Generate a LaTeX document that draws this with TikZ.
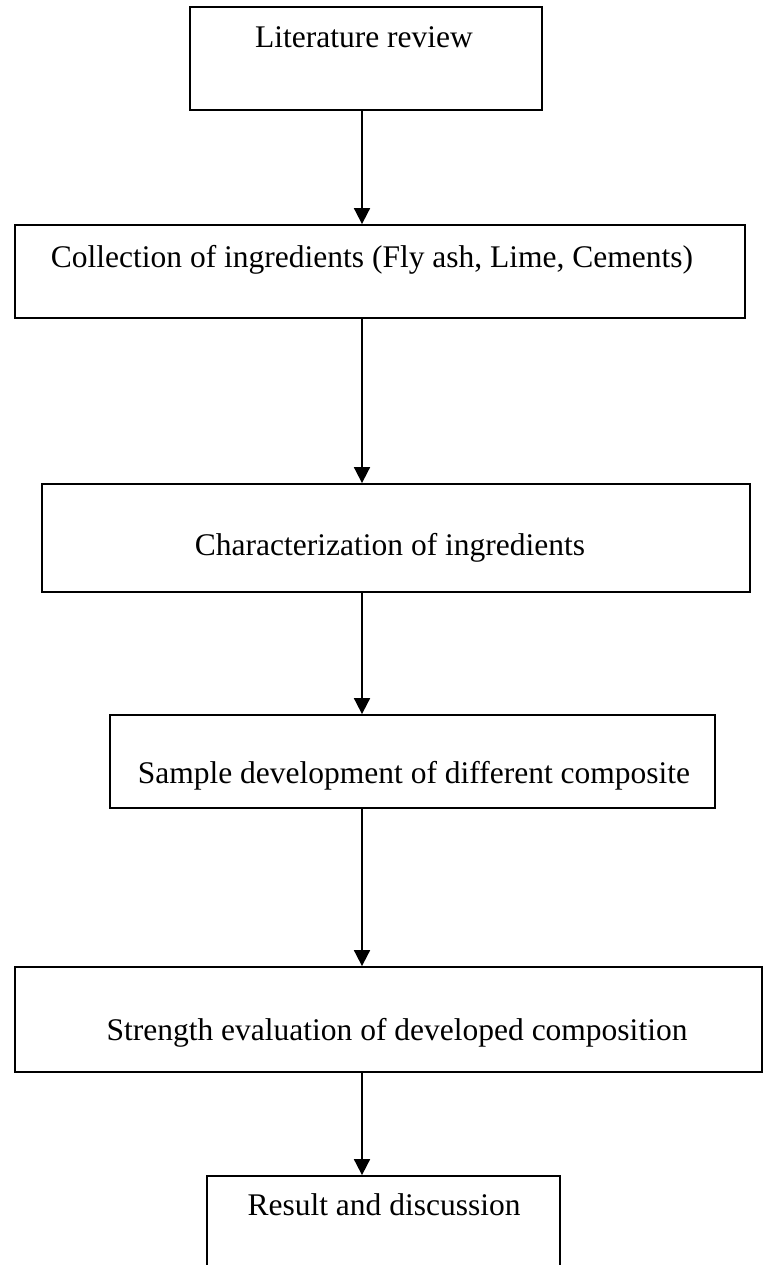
\documentclass[tikz,border=0pt]{standalone}
\usepackage{fontspec}
\setmainfont{Liberation Serif}
\usetikzlibrary{arrows.meta}
\tikzset{
  stepbox/.style={draw=black, line width=1.8pt, rectangle, inner sep=0pt},
  steptext/.style={anchor=base, inner sep=0pt, font=\fontsize{31.5}{36}\selectfont},
  flow/.style={line width=1.8pt, -{Triangle[length=16pt,width=16pt]}}
}
\begin{document}
\begin{tikzpicture}[x=1pt,y=-1pt]
\useasboundingbox (0,0) rectangle (766,1265);
\clip (0,0) rectangle (766,1265);
\fill[white] (0,0) rectangle (766,1265);
% boxes
\node[stepbox, minimum width=352pt, minimum height=103pt] (b1) at (366,58.5) {};
\node[stepbox, minimum width=730pt, minimum height=93pt] (b2) at (380,271.5) {};
\node[stepbox, minimum width=708pt, minimum height=108pt] (b3) at (396,538) {};
\node[stepbox, minimum width=605pt, minimum height=93pt] (b4) at (412.5,761.5) {};
\node[stepbox, minimum width=747pt, minimum height=105pt] (b5) at (388.5,1019.5) {};
\node[stepbox, minimum width=353pt, minimum height=160pt] (b6) at (383.5,1256) {};
% texts
\node[steptext] (t1) at (364,48) {Literature review};
\node[steptext] (t2) at (372,267) {Collection of ingredients (Fly ash, Lime, Cements)};
\node[steptext] (t3) at (390,555) {Characterization of ingredients};
\node[steptext] (t4) at (414,783) {Sample development of different composite};
\node[steptext] (t5) at (397,1040) {Strength evaluation of developed composition};
\node[steptext] (t6) at (384,1215) {Result and discussion};
% connectors
\draw[flow] (b1.south -| 362,0) -- (b2.north -| 362,0);
\draw[flow] (b2.south -| 362,0) -- (b3.north -| 362,0);
\draw[flow] (b3.south -| 362,0) -- (b4.north -| 362,0);
\draw[flow] (b4.south -| 362,0) -- (b5.north -| 362,0);
\draw[flow] (b5.south -| 362,0) -- (b6.north -| 362,0);
\end{tikzpicture}
\end{document}
